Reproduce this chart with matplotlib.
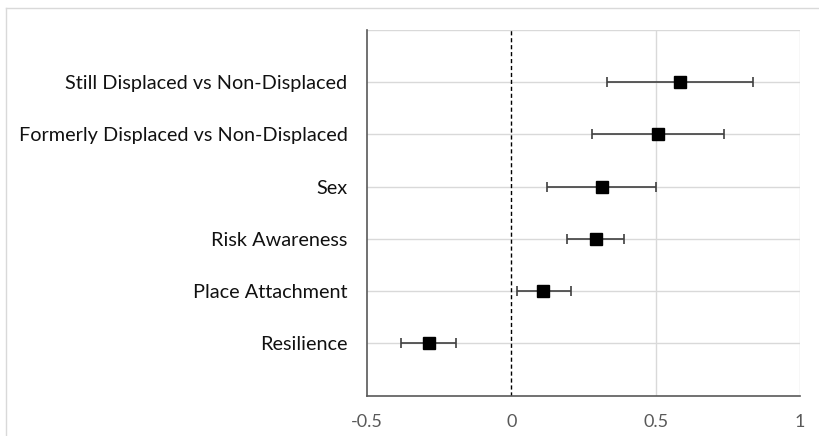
import matplotlib.pyplot as plt
from matplotlib.lines import Line2D

labels = ['Resilience', 'Place Attachment', 'Risk Awareness', 'Sex',
          'Formerly Displaced vs Non-Displaced', 'Still Displaced vs Non-Displaced']
est = [-0.286, 0.111, 0.292, 0.314, 0.507, 0.584]
lo = [-0.383, 0.019, 0.194, 0.125, 0.281, 0.333]
hi = [-0.190, 0.207, 0.390, 0.502, 0.737, 0.836]
xticks = [-0.5, 0, 0.5, 1]
xticklabels = ['-0.5', '0', '0.5', '1']

plt.rcParams['font.family'] = ['Lato', 'DejaVu Sans']

fig = plt.figure(figsize=(8.2, 4.36), dpi=100)
ax = fig.add_axes([367/820, 1-395.5/436, 433/820, 365.5/436])

ypos = list(range(1, len(labels)+1))
xerr = [[e-l for e, l in zip(est, lo)], [h-e for e, h in zip(est, hi)]]
ax.errorbar(est, ypos, xerr=xerr, fmt='s', color='black', ms=8, mec='black',
            ecolor='#404040', elinewidth=1.2, capsize=3.5, capthick=1.2, zorder=3)

ax.set_xlim(-0.5, 1)
ax.set_ylim(0, 7)
ax.set_xticks(xticks)
ax.set_xticklabels(xticklabels, color='#595959', fontsize=13)
ax.set_yticks(ypos)
ax.set_yticklabels(labels, fontsize=14.3, color='#111111')
ax.tick_params(axis='x', length=0, pad=13)
ax.tick_params(axis='y', length=0, pad=14)

for y in range(1, 8):
    ax.axhline(y, color='#d9d9d9', lw=1, zorder=1)
for x in [0.5, 1]:
    ax.axvline(x, color='#d9d9d9', lw=1, zorder=1)
ax.axvline(0, color='black', lw=1, ls=(0, (3, 2)), zorder=2)

for s in ['top', 'right']:
    ax.spines[s].set_visible(False)
ax.spines['left'].set_color('#595959')
ax.spines['bottom'].set_color('#595959')
ax.spines['left'].set_linewidth(1.2)
ax.spines['bottom'].set_linewidth(1.2)

# outer chart border
fig.add_artist(Line2D([6/820, 1], [1-8/436, 1-8/436], color='#d9d9d9', lw=1))
fig.add_artist(Line2D([6/820, 6/820], [0, 1-8/436], color='#d9d9d9', lw=1))

fig.savefig('out.png', dpi=100)
